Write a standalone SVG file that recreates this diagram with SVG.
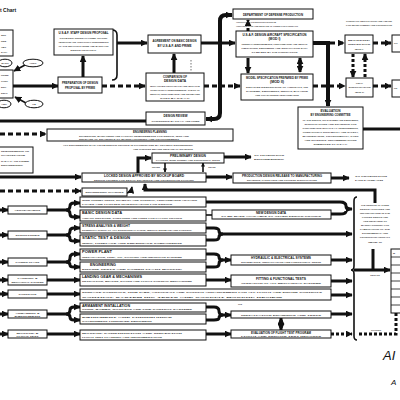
<svg xmlns="http://www.w3.org/2000/svg" width="400" height="400" viewBox="0 0 400 400">
<style>
.b{fill:#fff;stroke:#111;stroke-width:1}
.h{font-family:"Liberation Sans",Arial,sans-serif;font-weight:bold;font-size:3px;fill:#111;text-anchor:middle}
.s{font-family:"Liberation Sans",Arial,sans-serif;font-weight:bold;font-size:2.4px;fill:#333;text-anchor:middle}
.l{text-anchor:start}
.k{fill:none;stroke:#111;stroke-width:3}
.m{fill:none;stroke:#111;stroke-width:1.6}
.d{fill:none;stroke:#111;stroke-width:3;stroke-dasharray:5 3}
.t{fill:none;stroke:#111;stroke-width:0.6;stroke-dasharray:1.5 1.5}
</style>
<defs>
<marker id="a" viewBox="0 0 10 10" refX="9" refY="5" markerWidth="7" markerHeight="7" markerUnits="userSpaceOnUse" orient="auto"><path d="M0,0 L10,5 L0,10 Z" fill="#111"/></marker>
<marker id="as" viewBox="0 0 10 10" refX="9" refY="5" markerWidth="4" markerHeight="4" markerUnits="userSpaceOnUse" orient="auto"><path d="M0,0 L10,5 L0,10 Z" fill="#111"/></marker>
</defs>
<rect width="400" height="400" fill="#fff"/>
<text x="0" y="12" class="h l" style="font-size:5px">t Chart</text>

<g id="connectors">
<line x1="25" y1="65" x2="14" y2="71" class="m" marker-end="url(#a)"/>
<line x1="26" y1="103" x2="15" y2="97" class="m" marker-end="url(#a)"/>
<line x1="13" y1="86" x2="58" y2="86" class="k" marker-end="url(#a)"/>
<line x1="83" y1="77" x2="83" y2="56" class="k" marker-end="url(#a)"/>
<path d="M112,30 Q117,30 117,35 L117,75 Q117,80 112,80" class="m"/>
<line x1="117" y1="43" x2="147" y2="43" class="k" marker-end="url(#a)"/>
<line x1="102" y1="86" x2="145" y2="86" class="d" marker-end="url(#a)"/>
<line x1="174" y1="73" x2="174" y2="54" class="k" marker-end="url(#a)"/>
<line x1="191" y1="60" x2="191" y2="72" class="t"/>
<line x1="201" y1="43" x2="235" y2="43" class="k" marker-end="url(#a)"/>
<path d="M232,15 L226,15 Q220,15 220,21 L220,113 Q220,119 214,119 L206,119" class="k" style="stroke-width:4" marker-end="url(#a)"/>
<line x1="226" y1="15" x2="232" y2="15" class="k" style="stroke-width:4" marker-end="url(#a)"/>
<line x1="204" y1="86" x2="240" y2="86" class="d" marker-end="url(#a)"/>
<line x1="248" y1="31" x2="248" y2="20" class="d" style="stroke-dasharray:3 2" marker-end="url(#a)"/>
<line x1="248" y1="58" x2="248" y2="73" class="k" marker-end="url(#a)"/>
<line x1="300" y1="60" x2="300" y2="72" class="k" marker-end="url(#a)"/>
<line x1="300" y1="70" x2="300" y2="58" class="k" marker-end="url(#a)"/>
<path d="M313,43 L328,43 L328,106" class="k" style="stroke-width:4" marker-end="url(#a)"/>
<line x1="330" y1="43" x2="344" y2="43" class="d" marker-end="url(#a)"/>
<line x1="313" y1="86" x2="345" y2="86" class="d" marker-end="url(#a)"/>
<line x1="353" y1="54" x2="353" y2="77" class="d" style="stroke-dasharray:3 2" marker-end="url(#a)"/>
<line x1="365" y1="77" x2="365" y2="54" class="d" style="stroke-dasharray:3 2" marker-end="url(#a)"/>
<line x1="373" y1="43" x2="391" y2="43" class="d" marker-end="url(#a)"/>
<line x1="373" y1="86" x2="391" y2="86" class="d" marker-end="url(#a)"/>
<line x1="363" y1="129" x2="400" y2="129" class="k"/>
<line x1="0" y1="121" x2="146" y2="121" class="k"/>
<line x1="0" y1="134" x2="46" y2="134" class="d" marker-end="url(#a)"/>
<line x1="0" y1="177" x2="81" y2="177" class="k" marker-end="url(#a)"/>
<line x1="0" y1="191" x2="81" y2="191" class="d" marker-end="url(#a)"/>
<path d="M127,193 Q131,192 132,187" class="m" marker-end="url(#a)"/>
<path d="M138,173 L138,158 L151,158" class="k" marker-end="url(#a)"/>
<line x1="165" y1="163" x2="165" y2="172" class="m" marker-end="url(#as)"/>
<line x1="203" y1="172" x2="203" y2="163" class="m" marker-end="url(#as)"/>
<line x1="224" y1="157" x2="251" y2="157" class="k" marker-end="url(#a)"/>
<line x1="206" y1="177" x2="232" y2="177" class="k" marker-end="url(#a)"/>
<line x1="331" y1="178" x2="349" y2="178" class="k" marker-end="url(#a)"/>
<path d="M375,203 L375,190 L145,190 L145,184" class="k" marker-end="url(#a)"/>

<line x1="0" y1="210" x2="8" y2="210" class="k" marker-end="url(#a)"/>
<line x1="0" y1="235" x2="8" y2="235" class="k" marker-end="url(#a)"/>
<line x1="0" y1="262" x2="8" y2="262" class="k" marker-end="url(#a)"/>
<line x1="0" y1="280" x2="8" y2="280" class="k" marker-end="url(#a)"/>
<line x1="0" y1="294" x2="8" y2="294" class="k" marker-end="url(#a)"/>
<line x1="0" y1="314" x2="8" y2="314" class="k" marker-end="url(#a)"/>
<line x1="0" y1="334" x2="8" y2="334" class="k" marker-end="url(#a)"/>

<path d="M47,210 H66 Q70,210 70,206 Q70,203 74,203 H80" class="k" marker-end="url(#a)"/>
<path d="M66,210 Q70,210 70,214 Q70,217 74,217 H80" class="k" marker-end="url(#a)"/>
<path d="M47,235 H66 Q70,235 70,231 Q70,228 74,228 H80" class="k" marker-end="url(#a)"/>
<path d="M66,235 Q70,235 70,239 Q70,241 74,241 H80" class="k" marker-end="url(#a)"/>
<path d="M47,262 H66 Q70,262 70,258 Q70,254 74,254 H80" class="k" marker-end="url(#a)"/>
<path d="M66,262 Q70,262 70,265 Q70,267 74,267 H80" class="k" marker-end="url(#a)"/>
<line x1="47" y1="280" x2="80" y2="280" class="k" marker-end="url(#a)"/>
<line x1="47" y1="294" x2="80" y2="294" class="k" marker-end="url(#a)"/>
<path d="M47,314 H66 Q70,314 70,310 Q70,307 74,307 H80" class="k" marker-end="url(#a)"/>
<path d="M66,314 Q70,314 70,317 Q70,320 74,320 H80" class="k" marker-end="url(#a)"/>
<line x1="47" y1="334" x2="80" y2="334" class="k" marker-end="url(#a)"/>

<path d="M206,202 H340 Q346,202 346,206 Q346,209 349,209 H352" class="k" marker-end="url(#a)"/>
<path d="M331,214 H340 Q346,214 346,211" class="k"/>
<line x1="206" y1="215" x2="212" y2="215" class="m"/>
<path d="M206,228 H214 Q219,228 219,231 Q219,234 223,234" class="k"/>
<path d="M206,240 H214 Q219,240 219,237 Q219,234 223,234 H352" class="k" marker-end="url(#a)"/>
<path d="M206,254 H214 Q219,254 219,257 Q219,260 223,260" class="k"/>
<path d="M206,267 H214 Q219,267 219,264 Q219,260 223,260 H231" class="k" marker-end="url(#a)"/>
<line x1="331" y1="260" x2="352" y2="260" class="k" marker-end="url(#a)"/>
<line x1="206" y1="280" x2="231" y2="280" class="k" marker-end="url(#a)"/>
<line x1="331" y1="281" x2="352" y2="281" class="k" marker-end="url(#a)"/>
<line x1="331" y1="295" x2="352" y2="295" class="k" marker-end="url(#a)"/>
<path d="M206,307 H214 Q219,307 219,311 Q219,315 223,315" class="k"/>
<path d="M206,320 H214 Q219,320 219,318 Q219,315 223,315 H231" class="k" marker-end="url(#a)"/>
<line x1="331" y1="314" x2="352" y2="314" class="k" marker-end="url(#a)"/>
<line x1="281" y1="320" x2="281" y2="330" class="k" marker-end="url(#a)"/>
<line x1="281" y1="328" x2="281" y2="318" class="k" marker-end="url(#a)"/>
<line x1="206" y1="334" x2="231" y2="334" class="k" marker-end="url(#a)"/>
<line x1="331" y1="334" x2="352" y2="334" class="d" style="stroke-dasharray:3 2" marker-end="url(#a)"/>
<path d="M357,197 Q354,197 354,201 L354,266 Q354,270 351,270 Q354,270 354,274 L354,336 Q354,340 357,340" class="m"/>
<line x1="354" y1="270" x2="390" y2="270" class="k" marker-end="url(#a)"/>
<line x1="373" y1="249" x2="373" y2="270" class="k"/>
<path d="M396,313 V334 H358" class="d" style="stroke-dasharray:3 2"/>
</g>

<g id="n-left-top"><rect x="-2" y="30" width="15" height="26" class="b"/>
<text x="1" y="36" class="s l">SDR</text><text x="1" y="42" class="s l">REQ.</text><text x="1" y="48" class="s l">OBJ.</text><text x="1" y="53" class="s l">DATA</text></g>
<g id="n-ell1"><ellipse cx="5" cy="63" rx="7" ry="3.8" class="b"/><text x="5" y="64" class="s">WADC</text></g>
<g id="n-ell2"><ellipse cx="33" cy="63" rx="10" ry="3.8" class="b"/><text x="33" y="64" class="s">ARDC</text></g>
<g id="n-left-mid"><rect x="-2" y="70" width="15" height="28" class="b"/>
<text x="1" y="76" class="s l">PRIME</text><text x="1" y="82" class="s l">CONT.</text><text x="1" y="88" class="s l">ENG.</text><text x="1" y="94" class="s l">DEPT.</text></g>
<g id="n-ell3"><ellipse cx="4" cy="104" rx="7" ry="3.8" class="b"/><text x="4" y="105" class="s">AMC</text></g>
<g id="n-ell4"><ellipse cx="34" cy="104" rx="9" ry="3.8" class="b"/><text x="34" y="105" class="s">HQ</text></g>

<g id="n-staff"><rect x="54" y="29" width="59" height="26" class="b"/>
<text x="83.5" y="34" class="h" textLength="50" lengthAdjust="spacingAndGlyphs">U.S.A.F. STAFF DESIGN PROPOSAL</text>
<text x="83.5" y="39" class="s" textLength="48" lengthAdjust="spacingAndGlyphs">(FROM SDR) ISSUED TO PRIME. STATING</text>
<text x="83.5" y="43" class="s" textLength="50" lengthAdjust="spacingAndGlyphs">OBJECTIVES AND OPERATIONAL REQUIREMENTS</text>
<text x="83.5" y="47" class="s" textLength="50" lengthAdjust="spacingAndGlyphs">OF THE WEAPON SYSTEM AND BASIS FOR</text>
<text x="83.5" y="51" class="s" textLength="26" lengthAdjust="spacingAndGlyphs">DESIGN PROPOSAL</text></g>

<g id="n-prep"><rect x="58" y="77" width="44" height="16" class="b"/>
<text x="80" y="84" class="h" textLength="36" lengthAdjust="spacingAndGlyphs">PREPARATION OF DESIGN</text>
<text x="80" y="89" class="h" textLength="30" lengthAdjust="spacingAndGlyphs">PROPOSAL BY PRIME</text></g>

<g id="n-agree"><rect x="148" y="35" width="53" height="18" class="b"/>
<text x="174.5" y="42" class="h" textLength="44" lengthAdjust="spacingAndGlyphs">AGREEMENT ON BASIC DESIGN</text>
<text x="174.5" y="47" class="h" textLength="34" lengthAdjust="spacingAndGlyphs">BY U.S.A.F. AND PRIME</text></g>

<g id="n-compare"><rect x="146" y="73" width="58" height="28" class="b"/>
<text x="175" y="78" class="h" textLength="24" lengthAdjust="spacingAndGlyphs">COMPARISON OF</text>
<text x="175" y="82" class="h" textLength="22" lengthAdjust="spacingAndGlyphs">DESIGN DATA</text>
<text x="175" y="86.5" class="s" textLength="50" lengthAdjust="spacingAndGlyphs">WITH OTHER PROPOSALS AND WITH THE</text>
<text x="175" y="90.5" class="s" textLength="50" lengthAdjust="spacingAndGlyphs">OPERATIONAL REQUIREMENTS. CHECK OF</text>
<text x="175" y="94.5" class="s" textLength="50" lengthAdjust="spacingAndGlyphs">WEIGHT, PERFORMANCE AND ESTIMATED</text>
<text x="175" y="98.5" class="s" textLength="30" lengthAdjust="spacingAndGlyphs">COST BY U.S.A.F.</text></g>

<g id="n-review"><rect x="146" y="112" width="59" height="13" class="b"/>
<text x="175.5" y="117" class="h" textLength="24" lengthAdjust="spacingAndGlyphs">DESIGN REVIEW</text>
<text x="175.5" y="121.5" class="s" textLength="48" lengthAdjust="spacingAndGlyphs">CONFERENCE BY U.S.A.F. AND PRIME</text></g>

<g id="n-dod"><rect x="233" y="9" width="80" height="10" class="b"/>
<text x="273" y="15.5" class="h" textLength="60" lengthAdjust="spacingAndGlyphs">DEPARTMENT OF DEFENSE PRODUCTION</text>
<text x="236" y="23" class="s l" textLength="40" lengthAdjust="spacingAndGlyphs">APPROVAL OF PRODUCTION PROGRAM</text>
<text x="236" y="27" class="s l" textLength="62" lengthAdjust="spacingAndGlyphs">AUTHORIZATION AND RELEASE OF FUNDS FOR CONTRACT</text></g>

<g id="n-spec1"><rect x="236" y="31" width="77" height="26" class="b"/>
<text x="274.5" y="36" class="h" textLength="64" lengthAdjust="spacingAndGlyphs">U.S.A.F. DESIGN AIRCRAFT SPECIFICATION</text>
<text x="274.5" y="40" class="h" textLength="12" lengthAdjust="spacingAndGlyphs">(MOD I)</text>
<text x="274.5" y="44.5" class="s" textLength="66" lengthAdjust="spacingAndGlyphs">GENERAL REQUIREMENTS, PERFORMANCE AND WEIGHT</text>
<text x="274.5" y="48.5" class="s" textLength="66" lengthAdjust="spacingAndGlyphs">LIMITATIONS, EQUIPMENT AND INSTALLATION DATA</text>
<text x="274.5" y="52.5" class="s" textLength="46" lengthAdjust="spacingAndGlyphs">TO BE MET BY THE CONTRACTOR</text></g>

<g id="n-spec2"><rect x="241" y="74" width="72" height="26" class="b"/>
<text x="277" y="79" class="h" textLength="62" lengthAdjust="spacingAndGlyphs">MODEL SPECIFICATION PREPARED BY PRIME</text>
<text x="277" y="83" class="h" textLength="14" lengthAdjust="spacingAndGlyphs">(MOD II)</text>
<text x="277" y="87.5" class="s" textLength="62" lengthAdjust="spacingAndGlyphs">DETAILED DESCRIPTION OF AIRCRAFT, ITS</text>
<text x="277" y="91.5" class="s" textLength="62" lengthAdjust="spacingAndGlyphs">SYSTEMS, EQUIPMENT, WEIGHT, BALANCE</text>
<text x="277" y="95.5" class="s" textLength="44" lengthAdjust="spacingAndGlyphs">AND GUARANTEED PERFORMANCE</text></g>

<g id="n-note-top"><text x="346" y="22" class="s l" textLength="46" lengthAdjust="spacingAndGlyphs">CONTRACT NEGOTIATION AND AWARD</text>
<text x="346" y="26" class="s l" textLength="46" lengthAdjust="spacingAndGlyphs">FOR DEVELOPMENT AND PRODUCTION</text></g>
<g id="n-mock1"><rect x="345" y="35" width="28" height="18" class="b"/>
<text x="359" y="41" class="s" textLength="22" lengthAdjust="spacingAndGlyphs">MOCKUP</text>
<text x="359" y="45" class="s" textLength="22" lengthAdjust="spacingAndGlyphs">INSPECTION</text>
<text x="359" y="49.5" class="s">(MOD I)</text></g>
<g id="n-mock2"><rect x="346" y="78" width="27" height="19" class="b"/>
<text x="359.5" y="84" class="s">FINAL</text>
<text x="359.5" y="88" class="s" textLength="22" lengthAdjust="spacingAndGlyphs">SPECIFICATION</text>
<text x="359.5" y="92.5" class="s">(MOD II)</text></g>
<g id="n-edge1"><rect x="392" y="35" width="12" height="17" class="b"/><text x="394" y="44" class="s l">CO</text></g>
<g id="n-edge2"><rect x="392" y="80" width="12" height="17" class="b"/><text x="394" y="89" class="s l">PR</text></g>

<g id="n-eval"><rect x="298" y="107" width="65" height="42" class="b"/>
<text x="330.5" y="112" class="h" textLength="20" lengthAdjust="spacingAndGlyphs">EVALUATION</text>
<text x="330.5" y="116" class="h" textLength="40" lengthAdjust="spacingAndGlyphs">BY ENGINEERING COMMITTEE</text>
<text x="330.5" y="120.5" class="s" textLength="56" lengthAdjust="spacingAndGlyphs">OF THE DESIGN, ITS SYSTEMS AND EQUIPMENT,</text>
<text x="330.5" y="124.5" class="s" textLength="52" lengthAdjust="spacingAndGlyphs">SPECIFICATIONS AND DRAWINGS FOR</text>
<text x="330.5" y="128.5" class="s" textLength="56" lengthAdjust="spacingAndGlyphs">CONFORMANCE WITH U.S.A.F. REQUIREMENTS,</text>
<text x="330.5" y="132.5" class="s" textLength="56" lengthAdjust="spacingAndGlyphs">OPERATIONAL SUITABILITY AND SAFETY,</text>
<text x="330.5" y="136.5" class="s" textLength="56" lengthAdjust="spacingAndGlyphs">MAINTENANCE, PRODUCIBILITY, COST</text>
<text x="330.5" y="140.5" class="s" textLength="52" lengthAdjust="spacingAndGlyphs">AND SCHEDULE. RECOMMENDATIONS</text>
<text x="330.5" y="144.5" class="s" textLength="34" lengthAdjust="spacingAndGlyphs">SUBMITTED TO U.S.A.F.</text></g>

<g id="n-planning"><rect x="47" y="129" width="186" height="12" class="b"/>
<text x="133" y="133" class="h l" textLength="34" lengthAdjust="spacingAndGlyphs">ENGINEERING PLANNING</text>
<text x="79" y="136.5" class="s l" textLength="110" lengthAdjust="spacingAndGlyphs">SCHEDULES, MANPOWER AND FACILITY REQUIREMENTS FOR DESIGN, TEST AND</text>
<text x="79" y="140" class="s l" textLength="100" lengthAdjust="spacingAndGlyphs">RELEASE OF DRAWINGS TO MANUFACTURING AND PROCUREMENT</text></g>
<g id="n-note-mid"><text x="63" y="146" class="s l" textLength="130" lengthAdjust="spacingAndGlyphs">ALL ENGINEERING DATA FROM DESIGN GROUPS IS COORDINATED BY PROJECT ENGINEERING</text>
<text x="133" y="150" class="s l" textLength="60" lengthAdjust="spacingAndGlyphs">AND CHECKED BEFORE RELEASE OF DRAWINGS</text></g>

<g id="n-left-box"><rect x="-2" y="147" width="35" height="26" class="b"/>
<text x="1" y="152" class="s l" textLength="28" lengthAdjust="spacingAndGlyphs">REQUIREMENTS OR</text>
<text x="1" y="156" class="s l" textLength="24" lengthAdjust="spacingAndGlyphs">CHANGES FROM</text>
<text x="1" y="162" class="s l" textLength="28" lengthAdjust="spacingAndGlyphs">U.S.A.F. OR PRIME</text>
<text x="1" y="166" class="s l" textLength="22" lengthAdjust="spacingAndGlyphs">ENGINEERING</text></g>

<g id="n-prelim"><rect x="152" y="153" width="72" height="10" class="b"/>
<text x="188" y="157" class="h" textLength="36" lengthAdjust="spacingAndGlyphs">PRELIMINARY DESIGN</text>
<text x="188" y="161" class="s" textLength="64" lengthAdjust="spacingAndGlyphs">LAYOUTS, WIND TUNNEL AND STRUCTURAL TESTS</text></g>
<g id="n-lbl1"><text x="156" y="168" class="s" style="font-size:2px">REVIEW</text><text x="212" y="168" class="s" style="font-size:2px">REVISE</text></g>
<g id="n-locked"><rect x="82" y="173" width="124" height="9" class="b"/>
<text x="144" y="177" class="h" textLength="80" lengthAdjust="spacingAndGlyphs">LOCKED DESIGN APPROVED BY MOCKUP BOARD</text>
<text x="144" y="180.7" class="s" textLength="100" lengthAdjust="spacingAndGlyphs">DESIGN FROZEN FOR DETAIL DRAWINGS AND PRODUCTION TOOLING</text></g>
<g id="n-small"><rect x="82" y="188" width="45" height="8" class="b"/>
<text x="104.5" y="193" class="s" textLength="38" lengthAdjust="spacingAndGlyphs">ENGINEERING CHANGES</text></g>
<g id="n-note-prod"><text x="254" y="156" class="s l" textLength="30" lengthAdjust="spacingAndGlyphs">TO PRODUCTION</text>
<text x="254" y="160" class="s l" textLength="30" lengthAdjust="spacingAndGlyphs">ENGINEERING</text></g>
<g id="n-release"><rect x="233" y="173" width="98" height="10" class="b"/>
<text x="282" y="177" class="h" textLength="80" lengthAdjust="spacingAndGlyphs">PRODUCTION DESIGN RELEASE TO MANUFACTURING</text>
<text x="282" y="181" class="s" textLength="70" lengthAdjust="spacingAndGlyphs">DRAWINGS, PARTS LISTS AND PROCESS SPECIFICATIONS</text></g>
<g id="n-note-follow"><text x="355" y="177" class="s l" textLength="32" lengthAdjust="spacingAndGlyphs">TO PRODUCTION</text>
<text x="355" y="181" class="s l" textLength="28" lengthAdjust="spacingAndGlyphs">FOLLOW-ON</text></g>

<g id="n-aero"><rect x="8" y="206" width="39" height="8" class="b"/><text x="27.5" y="211" class="s" textLength="26" lengthAdjust="spacingAndGlyphs">AERODYNAMICS</text></g>
<g id="n-struct"><rect x="8" y="231" width="39" height="8" class="b"/><text x="27.5" y="236" class="s" textLength="24" lengthAdjust="spacingAndGlyphs">STRUCTURES</text></g>
<g id="n-power"><rect x="8" y="258" width="39" height="8" class="b"/><text x="27.5" y="263" class="s" textLength="24" lengthAdjust="spacingAndGlyphs">POWER PLANT</text></g>
<g id="n-landing"><rect x="8" y="275" width="39" height="10" class="b"/><text x="27.5" y="279" class="s" textLength="20" lengthAdjust="spacingAndGlyphs">LANDING &amp;</text><text x="27.5" y="283" class="s" textLength="32" lengthAdjust="spacingAndGlyphs">MECHANICAL SYSTEMS</text></g>
<g id="n-controls"><rect x="8" y="290" width="39" height="8" class="b"/><text x="27.5" y="295" class="s" textLength="18" lengthAdjust="spacingAndGlyphs">CONTROLS</text></g>
<g id="n-arm"><rect x="8" y="310" width="39" height="8" class="b"/><text x="27.5" y="313.5" class="s" textLength="24" lengthAdjust="spacingAndGlyphs">ARMAMENT &amp;</text><text x="27.5" y="317" class="s" textLength="26" lengthAdjust="spacingAndGlyphs">EQUIPMENT</text></g>
<g id="n-mocktest"><rect x="8" y="330" width="39" height="8" class="b"/><text x="27.5" y="333.5" class="s" textLength="22" lengthAdjust="spacingAndGlyphs">MOCKUP &amp;</text><text x="27.5" y="337" class="s" textLength="22" lengthAdjust="spacingAndGlyphs">FLIGHT TEST</text></g>

<g id="n-r1a"><rect x="80" y="197" width="126" height="10" class="b"/><text x="82" y="201" class="s l" textLength="115" lengthAdjust="spacingAndGlyphs">WIND TUNNEL TESTS, STABILITY AND CONTROL, PERFORMANCE ANALYSIS</text><text x="82" y="205" class="s l" textLength="90" lengthAdjust="spacingAndGlyphs">LOADS AND FLUTTER INVESTIGATION FOR DESIGN</text></g>
<g id="n-r1b"><rect x="80" y="210" width="126" height="11" class="b"/><text x="82" y="214" class="h l" textLength="40" lengthAdjust="spacingAndGlyphs">BASIC DESIGN DATA</text><text x="82" y="218.5" class="s l" textLength="100" lengthAdjust="spacingAndGlyphs">AIRFOIL SECTIONS, CONTOURS AND LINES FOR LAYOUT GROUPS</text></g>
<g id="n-r1c"><rect x="212" y="210" width="119" height="9" class="b"/><text x="271" y="213.5" class="h" textLength="30" lengthAdjust="spacingAndGlyphs">NEW DESIGN DATA</text><text x="271" y="217.3" class="s" textLength="100" lengthAdjust="spacingAndGlyphs">TO BE MADE AVAILABLE TO OTHER DESIGN GROUPS</text></g>
<g id="n-r2a"><rect x="80" y="223" width="126" height="10" class="b"/><text x="82" y="227" class="h l" textLength="48" lengthAdjust="spacingAndGlyphs">STRESS ANALYSIS &amp; WEIGHT</text><text x="82" y="231" class="s l" textLength="110" lengthAdjust="spacingAndGlyphs">STRENGTH CHECK OF ALL STRUCTURAL PARTS, WEIGHT ESTIMATE AND CONTROL</text></g>
<g id="n-r2b"><rect x="80" y="235" width="126" height="11" class="b"/><text x="82" y="239" class="h l" textLength="48" lengthAdjust="spacingAndGlyphs">STATIC TEST &amp; DESIGN</text><text x="82" y="243.5" class="s l" textLength="100" lengthAdjust="spacingAndGlyphs">WING, FUSELAGE AND EMPENNAGE COMPONENTS</text></g>
<g id="n-r3a"><rect x="80" y="249" width="126" height="11" class="b"/><text x="82" y="253" class="h l" textLength="30" lengthAdjust="spacingAndGlyphs">POWER PLANT</text><text x="82" y="257.5" class="s l" textLength="100" lengthAdjust="spacingAndGlyphs">INSTALLATION, FUEL, OIL, COOLING AND INDUCTION SYSTEMS</text></g>
<g id="n-r3b"><rect x="80" y="262" width="126" height="10" class="b"/><text x="90" y="266" class="h l" textLength="26" lengthAdjust="spacingAndGlyphs">ENGINEERING</text><text x="82" y="270" class="s l" textLength="100" lengthAdjust="spacingAndGlyphs">ENGINE TESTS AND POWER PLANT MOCKUP</text></g>
<g id="n-r3c"><rect x="231" y="255" width="100" height="10" class="b"/><text x="281" y="259" class="h" textLength="60" lengthAdjust="spacingAndGlyphs">HYDRAULIC &amp; ELECTRICAL SYSTEMS</text><text x="281" y="263" class="s" textLength="80" lengthAdjust="spacingAndGlyphs">SCHEMATICS, INSTALLATION AND FUNCTIONAL TESTS</text></g>
<g id="n-r4a"><rect x="80" y="274" width="126" height="12" class="b"/><text x="82" y="278" class="h l" textLength="60" lengthAdjust="spacingAndGlyphs">LANDING GEAR &amp; MECHANISMS</text><text x="82" y="282" class="s l" textLength="110" lengthAdjust="spacingAndGlyphs">RETRACTION, BRAKES, DOORS AND FLIGHT CONTROL MECHANISMS</text></g>
<g id="n-r4c"><rect x="231" y="275" width="100" height="12" class="b"/><text x="281" y="279.5" class="h" textLength="50" lengthAdjust="spacingAndGlyphs">FITTING &amp; FUNCTIONAL TESTS</text><text x="281" y="284" class="s" textLength="80" lengthAdjust="spacingAndGlyphs">OPERATION OF ALL MECHANICAL SYSTEMS</text></g>
<g id="n-r5"><rect x="80" y="289" width="251" height="11" class="b"/><text x="82" y="293" class="s l" textLength="240" lengthAdjust="spacingAndGlyphs">SURFACE CONTROLS, TRIM TABS, AUTOPILOT AND COCKPIT ARRANGEMENT FOR ALL FLIGHT AND ENGINE CONTROLS</text><text x="82" y="297.5" class="s l" textLength="200" lengthAdjust="spacingAndGlyphs">CONTROL SYSTEM RIG TESTS AND COCKPIT MOCKUP REVIEW</text></g>
<g id="n-r6a"><rect x="80" y="303" width="126" height="9" class="b"/><text x="82" y="306.5" class="h l" textLength="48" lengthAdjust="spacingAndGlyphs">ARMAMENT INSTALLATION</text><text x="82" y="310.3" class="s l" textLength="110" lengthAdjust="spacingAndGlyphs">GUNS, BOMBS, ROCKETS AND FIRE CONTROL SYSTEMS</text></g>
<g id="n-r6b"><rect x="80" y="314" width="126" height="10" class="b"/><text x="82" y="318" class="s l" textLength="90" lengthAdjust="spacingAndGlyphs">EQUIPMENT AND FURNISHINGS</text><text x="82" y="322" class="s l" textLength="70" lengthAdjust="spacingAndGlyphs">GOVERNMENT FURNISHED EQUIPMENT</text></g>
<g id="n-r6c"><text x="238" y="305" class="s l" style="font-size:2px">GFE</text><rect x="231" y="311" width="100" height="7" class="b"/><text x="281" y="316" class="s" textLength="80" lengthAdjust="spacingAndGlyphs">INSTALLATION DRAWINGS AND TESTS</text></g>
<g id="n-r7a"><rect x="80" y="330" width="126" height="10" class="b"/><text x="82" y="334" class="s l" textLength="100" lengthAdjust="spacingAndGlyphs">MOCKUP CONSTRUCTION AND INSPECTION</text><text x="82" y="338" class="s l" textLength="80" lengthAdjust="spacingAndGlyphs">FLIGHT TEST PLANNING AND INSTRUMENTATION</text></g>
<g id="n-r7c"><rect x="231" y="330" width="100" height="8" class="b"/><text x="281" y="333.5" class="h" textLength="60" lengthAdjust="spacingAndGlyphs">EVALUATION OF FLIGHT TEST PROGRAM</text><text x="281" y="337" class="s" textLength="80" lengthAdjust="spacingAndGlyphs">FLIGHT AND SERVICE TEST REPORTS</text></g>

<g id="n-right-text">
<text x="375" y="206" class="s" textLength="28" lengthAdjust="spacingAndGlyphs">THE RESULTS OF THESE</text>
<text x="375" y="210" class="s" textLength="30" lengthAdjust="spacingAndGlyphs">DESIGN ACTIVITIES ARE</text>
<text x="375" y="214" class="s" textLength="30" lengthAdjust="spacingAndGlyphs">INCORPORATED IN THE</text>
<text x="375" y="218" class="s" textLength="26" lengthAdjust="spacingAndGlyphs">LOCKED DESIGN AND</text>
<text x="375" y="222" class="s" textLength="24" lengthAdjust="spacingAndGlyphs">ARE RELEASED TO</text>
<text x="375" y="226" class="s" textLength="28" lengthAdjust="spacingAndGlyphs">MANUFACTURING FOR</text>
<text x="375" y="230" class="s" textLength="30" lengthAdjust="spacingAndGlyphs">FABRICATION OF THE</text>
<text x="375" y="234" class="s" textLength="26" lengthAdjust="spacingAndGlyphs">EXPERIMENTAL AND</text>
<text x="375" y="238" class="s" textLength="30" lengthAdjust="spacingAndGlyphs">PRODUCTION AIRCRAFT</text>
<text x="375" y="243" class="s" textLength="14" lengthAdjust="spacingAndGlyphs">(MOD II)</text>
<text x="375" y="276" class="s" style="font-size:2px">RELEASE</text>
<text x="376" y="331" class="s" style="font-size:2px">CHANGES</text>
</g>
<g id="n-table"><rect x="391" y="249" width="12" height="64" class="b"/>
<line x1="391" y1="257" x2="403" y2="257" class="m" style="stroke-width:0.8"/>
<line x1="391" y1="265" x2="403" y2="265" class="m" style="stroke-width:0.8"/>
<line x1="391" y1="273" x2="403" y2="273" class="m" style="stroke-width:0.8"/>
<line x1="391" y1="281" x2="403" y2="281" class="m" style="stroke-width:0.8"/>
<line x1="391" y1="289" x2="403" y2="289" class="m" style="stroke-width:0.8"/>
<line x1="391" y1="297" x2="403" y2="297" class="m" style="stroke-width:0.8"/>
<line x1="391" y1="305" x2="403" y2="305" class="m" style="stroke-width:0.8"/>
<text x="393" y="254" class="s l">M</text></g>
<g id="n-label-a"><text x="383" y="360" class="h l" style="font-size:13px;font-weight:normal;font-style:italic">AI</text>
<text x="391" y="385" class="h l" style="font-size:8px;font-weight:normal;font-style:italic">A</text></g>
</svg>
